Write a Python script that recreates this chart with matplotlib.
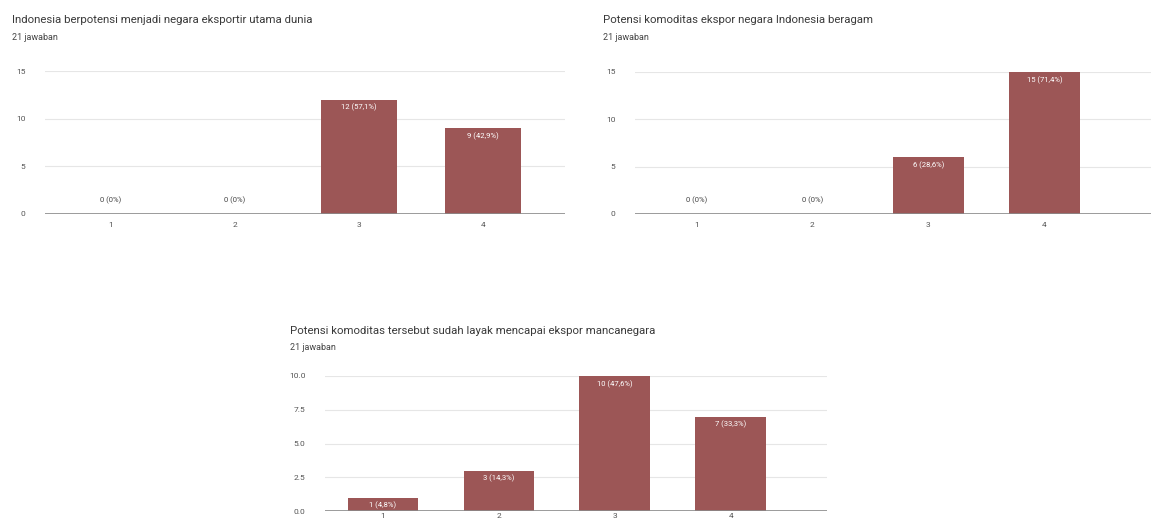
import numpy as np
import matplotlib
matplotlib.use('Agg')
import matplotlib.pyplot as plt

plt.rcParams['font.family'] = ['Roboto', 'DejaVu Sans']

categories = ['1', '2', '3', '4']

titles = [
    'Indonesia berpotensi menjadi negara eksportir utama dunia',
    'Potensi komoditas ekspor negara Indonesia beragam',
    'Potensi komoditas tersebut sudah layak mencapai ekspor mancanegara',
]
subtitle = '21 jawaban'

counts_1 = [0, 0, 12, 9]
labels_1 = ['0 (0%)', '0 (0%)', '12 (57,1%)', '9 (42,9%)']

counts_2 = [0, 0, 6, 15]
labels_2 = ['0 (0%)', '0 (0%)', '6 (28,6%)', '15 (71,4%)']

counts_3 = [1, 3, 10, 7]
labels_3 = ['1 (4,8%)', '3 (14,3%)', '10 (47,6%)', '7 (33,3%)']

yticks_12 = [0, 5, 10, 15]
yticks_3 = [0, 2.5, 5, 7.5, 10]
yticklabels_3 = ['0.0', '2.5', '5.0', '7.5', '10.0']

bar_colour = '#9c5656'

W, H = 1151, 522
fig = plt.figure(figsize=(W / 100, H / 100), dpi=100)


def px_axes(left, right, top, bottom):
    return fig.add_axes([left / W, 1 - bottom / H, (right - left) / W, (bottom - top) / H])


def draw(ax, counts, labels, yticks, ytl, ymax, xlim, title, title_xy, xpad):
    x = np.arange(1, len(categories) + 1)
    ax.bar(x, counts, width=0.61, color=bar_colour, zorder=3)
    ax.set_xlim(*xlim)
    ax.set_ylim(0, ymax)
    ax.set_yticks(yticks)
    ax.set_yticklabels(ytl)
    ax.set_xticks(x)
    ax.set_xticklabels(categories)
    ax.grid(axis='y', color='#e6e6e6', lw=0.8, zorder=0)
    ax.axhline(0, color='#8a8a8a', lw=1.2, zorder=4)
    for s in ax.spines.values():
        s.set_visible(False)
    ax.tick_params(length=0, labelsize=6, colors='#555555')
    ax.tick_params(axis='x', pad=xpad)
    ax.tick_params(axis='y', pad=14)
    for xi, c, lab in zip(x, counts, labels):
        if c == 0:
            ax.annotate(lab, (xi, 0), xytext=(0, 7), textcoords='offset points',
                        ha='center', va='bottom', fontsize=5.5, color='#444444', zorder=5)
        else:
            ax.annotate(lab, (xi, c), xytext=(0, -3), textcoords='offset points',
                        ha='center', va='top', fontsize=5.5, color='white', zorder=5)
    fig.text(title_xy[0] / W, 1 - title_xy[1] / H, title, fontsize=8.2,
             color='#3a3a3a', ha='left', va='center')
    fig.text(title_xy[0] / W, 1 - (title_xy[1] + 17) / H, subtitle, fontsize=6.5,
             color='#444444', ha='left', va='center')


ax1 = px_axes(45, 565, 71, 214)
draw(ax1, counts_1, labels_1, yticks_12, [str(t) for t in yticks_12], 15,
     (0.47, 4.66), titles[0], (12, 20), 6)

ax2 = px_axes(635, 1151, 72, 214)
draw(ax2, counts_2, labels_2, yticks_12, [str(t) for t in yticks_12], 15,
     (0.47, 4.92), titles[1], (603, 20), 6)

ax3 = px_axes(325, 827, 376, 511)
draw(ax3, counts_3, labels_3, yticks_3, yticklabels_3, 10,
     (0.5, 4.83), titles[2], (290, 331), 1.5)

fig.savefig('out.png', dpi=100, facecolor='white')
